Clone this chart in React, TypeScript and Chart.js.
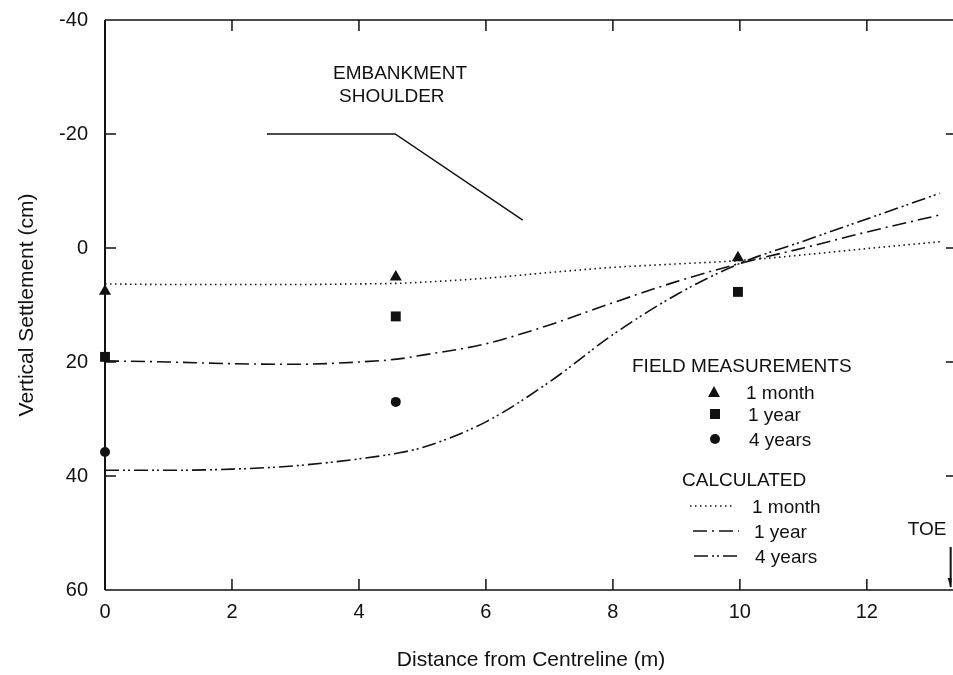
import React, { useEffect, useRef } from 'react';
import { Chart, registerables } from 'chart.js';

Chart.register(...registerables);

const FONT = '"Liberation Sans", Arial, Helvetica, sans-serif';

// Calculated curves (distance m -> settlement cm, positive = downward)
const calcX = [0, 1, 2, 3, 4, 4.6, 5, 6, 7, 8, 9, 10, 11, 12, 13.15];
const calc1Month = [6.3, 6.4, 6.4, 6.4, 6.3, 6.2, 6.0, 5.3, 4.3, 3.4, 2.8, 2.2, 1.2, 0.1, -1.1];
const calc1Year = [19.8, 20.0, 20.3, 20.4, 20.0, 19.5, 18.8, 16.8, 13.5, 9.6, 5.9, 2.7, 0.0, -2.8, -5.8];
const calc4Years = [39.0, 39.0, 38.8, 38.2, 37.0, 36.0, 35.0, 30.5, 23.5, 15.2, 8.2, 2.7, -1.2, -5.1, -9.6];

// Field measurements
const fieldX = [0, 4.58, 9.97];
const field1Month = [7.6, 5.1, 1.7];
const field1Year = [19.1, 12.0, 7.7];
const field4YearsX = [0, 4.58];
const field4Years = [35.8, 27.0];

// Embankment outline
const embankX = [2.55, 4.57, 6.58];
const embankY = [-20, -20, -4.9];
const toeX = 13.32;

const xTicks = [0, 2, 4, 6, 8, 10, 12];
const yTicks = [-40, -20, 0, 20, 40, 60];
const X_MAX = 13.42;

const DASH_1M = [1.5, 3.5];
const DASH_1Y = [14, 5, 2, 5];
const DASH_4Y = [14, 4, 2, 3, 2, 4];

const pts = (xs: number[], ys: number[]) => xs.map((x, i) => ({ x, y: ys[i] }));

const decorPlugin = {
  id: 'decor',
  afterDraw(chart: any) {
    const { ctx, chartArea } = chart;
    const xs = chart.scales.x;
    const ys = chart.scales.y;
    const { left, right, top, bottom } = chartArea;
    ctx.save();
    ctx.strokeStyle = '#111';
    ctx.setLineDash([]);
    // frame
    ctx.lineWidth = 1.5;
    ctx.beginPath();
    ctx.moveTo(left, top);
    ctx.lineTo(right, top);
    ctx.lineTo(right, bottom);
    ctx.lineTo(left, bottom);
    ctx.stroke();
    ctx.lineWidth = 2;
    ctx.beginPath();
    ctx.moveTo(left, top);
    ctx.lineTo(left, bottom);
    ctx.stroke();
    // inward ticks
    const TL = 11;
    ctx.lineWidth = 1.5;
    ctx.beginPath();
    xTicks.forEach((v) => {
      if (v === 0) return;
      const px = xs.getPixelForValue(v);
      ctx.moveTo(px, bottom);
      ctx.lineTo(px, bottom - TL);
      ctx.moveTo(px, top);
      ctx.lineTo(px, top + TL);
    });
    yTicks.forEach((v) => {
      if (v === -40 || v === 60) return;
      const py = ys.getPixelForValue(v);
      ctx.moveTo(left, py);
      ctx.lineTo(left + TL, py);
      ctx.moveTo(right, py);
      ctx.lineTo(right - TL, py);
    });
    ctx.stroke();

    // texts
    ctx.fillStyle = '#111';
    ctx.textBaseline = 'middle';
    ctx.textAlign = 'left';
    ctx.font = `19px ${FONT}`;
    ctx.fillText('EMBANKMENT', 333, 74);
    ctx.fillText('SHOULDER', 339, 97);

    ctx.fillText('FIELD MEASUREMENTS', 632, 367);
    ctx.fillText('1 month', 746, 394);
    ctx.fillText('1 year', 748, 416);
    ctx.fillText('4 years', 749, 441);
    ctx.fillText('CALCULATED', 682, 481);
    ctx.fillText('1 month', 752, 508);
    ctx.fillText('1 year', 754, 533);
    ctx.fillText('4 years', 755, 558);

    // legend markers
    ctx.beginPath();
    ctx.moveTo(714, 386);
    ctx.lineTo(720, 397);
    ctx.lineTo(708, 397);
    ctx.closePath();
    ctx.fill();
    ctx.fillRect(710, 409, 10, 10);
    ctx.beginPath();
    ctx.arc(715, 439, 5, 0, Math.PI * 2);
    ctx.fill();

    // legend lines
    ctx.lineWidth = 1.5;
    const legLine = (x1: number, x2: number, y: number, dash: number[]) => {
      ctx.setLineDash(dash);
      ctx.beginPath();
      ctx.moveTo(x1, y);
      ctx.lineTo(x2, y);
      ctx.stroke();
    };
    legLine(690, 734, 506, DASH_1M);
    legLine(693, 739, 531, DASH_1Y);
    legLine(694, 740, 556, DASH_4Y);
    ctx.setLineDash([]);

    // TOE
    ctx.textAlign = 'center';
    ctx.fillText('TOE', 927, 530);
    const tx = xs.getPixelForValue(toeX);
    ctx.lineWidth = 2;
    ctx.beginPath();
    ctx.moveTo(tx, 547);
    ctx.lineTo(tx, 587);
    ctx.stroke();
    ctx.beginPath();
    ctx.moveTo(tx, 588);
    ctx.lineTo(tx - 3, 578);
    ctx.lineTo(tx + 1, 578);
    ctx.closePath();
    ctx.fill();
    ctx.restore();
  },
};

export default function App() {
  const ref = useRef<HTMLCanvasElement>(null);

  useEffect(() => {
    if (!ref.current) return;
    const lineDs = (label: string, ys: number[], dash: number[]) => ({
      type: 'line' as const,
      label,
      data: pts(calcX, ys),
      borderColor: '#111',
      borderWidth: 1.6,
      borderDash: dash,
      pointRadius: 0,
      fill: false,
      tension: 0.4,
      cubicInterpolationMode: 'monotone' as const,
    });
    const scatterDs = (label: string, xs: number[], ys: number[], style: string, r: number) => ({
      type: 'scatter' as const,
      label,
      data: pts(xs, ys),
      pointStyle: style,
      pointRadius: r,
      pointBackgroundColor: '#111',
      pointBorderColor: '#111',
      pointBorderWidth: 0,
      showLine: false,
      clip: false,
    });
    const chart = new Chart(ref.current, {
      type: 'scatter',
      data: {
        datasets: [
          lineDs('Calculated 1 month', calc1Month, DASH_1M),
          lineDs('Calculated 1 year', calc1Year, DASH_1Y),
          lineDs('Calculated 4 years', calc4Years, DASH_4Y),
          {
            type: 'line' as const,
            label: 'Embankment',
            data: pts(embankX, embankY),
            borderColor: '#111',
            borderWidth: 1.5,
            pointRadius: 0,
            tension: 0,
            fill: false,
          },
          scatterDs('Field 1 month', fieldX, field1Month, 'triangle', 7),
          scatterDs('Field 1 year', fieldX, field1Year, 'rect', 7),
          scatterDs('Field 4 years', field4YearsX, field4Years, 'circle', 5),
        ] as any,
      },
      options: {
        animation: false,
        responsive: false,
        layout: { padding: { top: 20, right: 8, bottom: 0, left: 0 } },
        plugins: { legend: { display: false }, tooltip: { enabled: false } },
        scales: {
          x: {
            type: 'linear',
            min: 0,
            max: X_MAX,
            afterBuildTicks: (s: any) => {
              s.ticks = xTicks.map((v) => ({ value: v }));
            },
            afterFit: (s: any) => {
              s.height = 85;
              s.paddingLeft = 0;
              s.paddingRight = 0;
            },
            grid: { display: false, drawTicks: false },
            border: { display: false },
            ticks: {
              color: '#111',
              padding: 10,
              maxRotation: 0,
              font: { family: FONT, size: 20 },
              callback: (v: any) => String(v),
            },
            title: {
              display: true,
              text: 'Distance from Centreline (m)',
              color: '#111',
              font: { family: FONT, size: 21 },
              padding: { top: 0, bottom: 2 },
            },
          },
          y: {
            type: 'linear',
            reverse: true,
            min: -40,
            max: 60,
            afterBuildTicks: (s: any) => {
              s.ticks = yTicks.map((v) => ({ value: v }));
            },
            afterFit: (s: any) => {
              s.width = 105;
              s.paddingTop = 0;
              s.paddingBottom = 0;
            },
            grid: { display: false, drawTicks: false },
            border: { display: false },
            ticks: {
              color: '#111',
              padding: 17,
              font: { family: FONT, size: 20 },
              callback: (v: any) => String(v),
            },
            title: {
              display: true,
              text: 'Vertical Settlement (cm)',
              color: '#111',
              font: { family: FONT, size: 21 },
              padding: { top: 15, bottom: 0 },
            },
          },
        },
      } as any,
      plugins: [decorPlugin],
    });
    return () => chart.destroy();
  }, []);

  return (
    <div
      style={{
        position: 'absolute',
        left: 0,
        top: 0,
        width: 953,
        height: 675,
        overflow: 'hidden',
        background: '#fff',
      }}
    >
      <canvas ref={ref} width={965} height={675} style={{ display: 'block' }} />
    </div>
  );
}
